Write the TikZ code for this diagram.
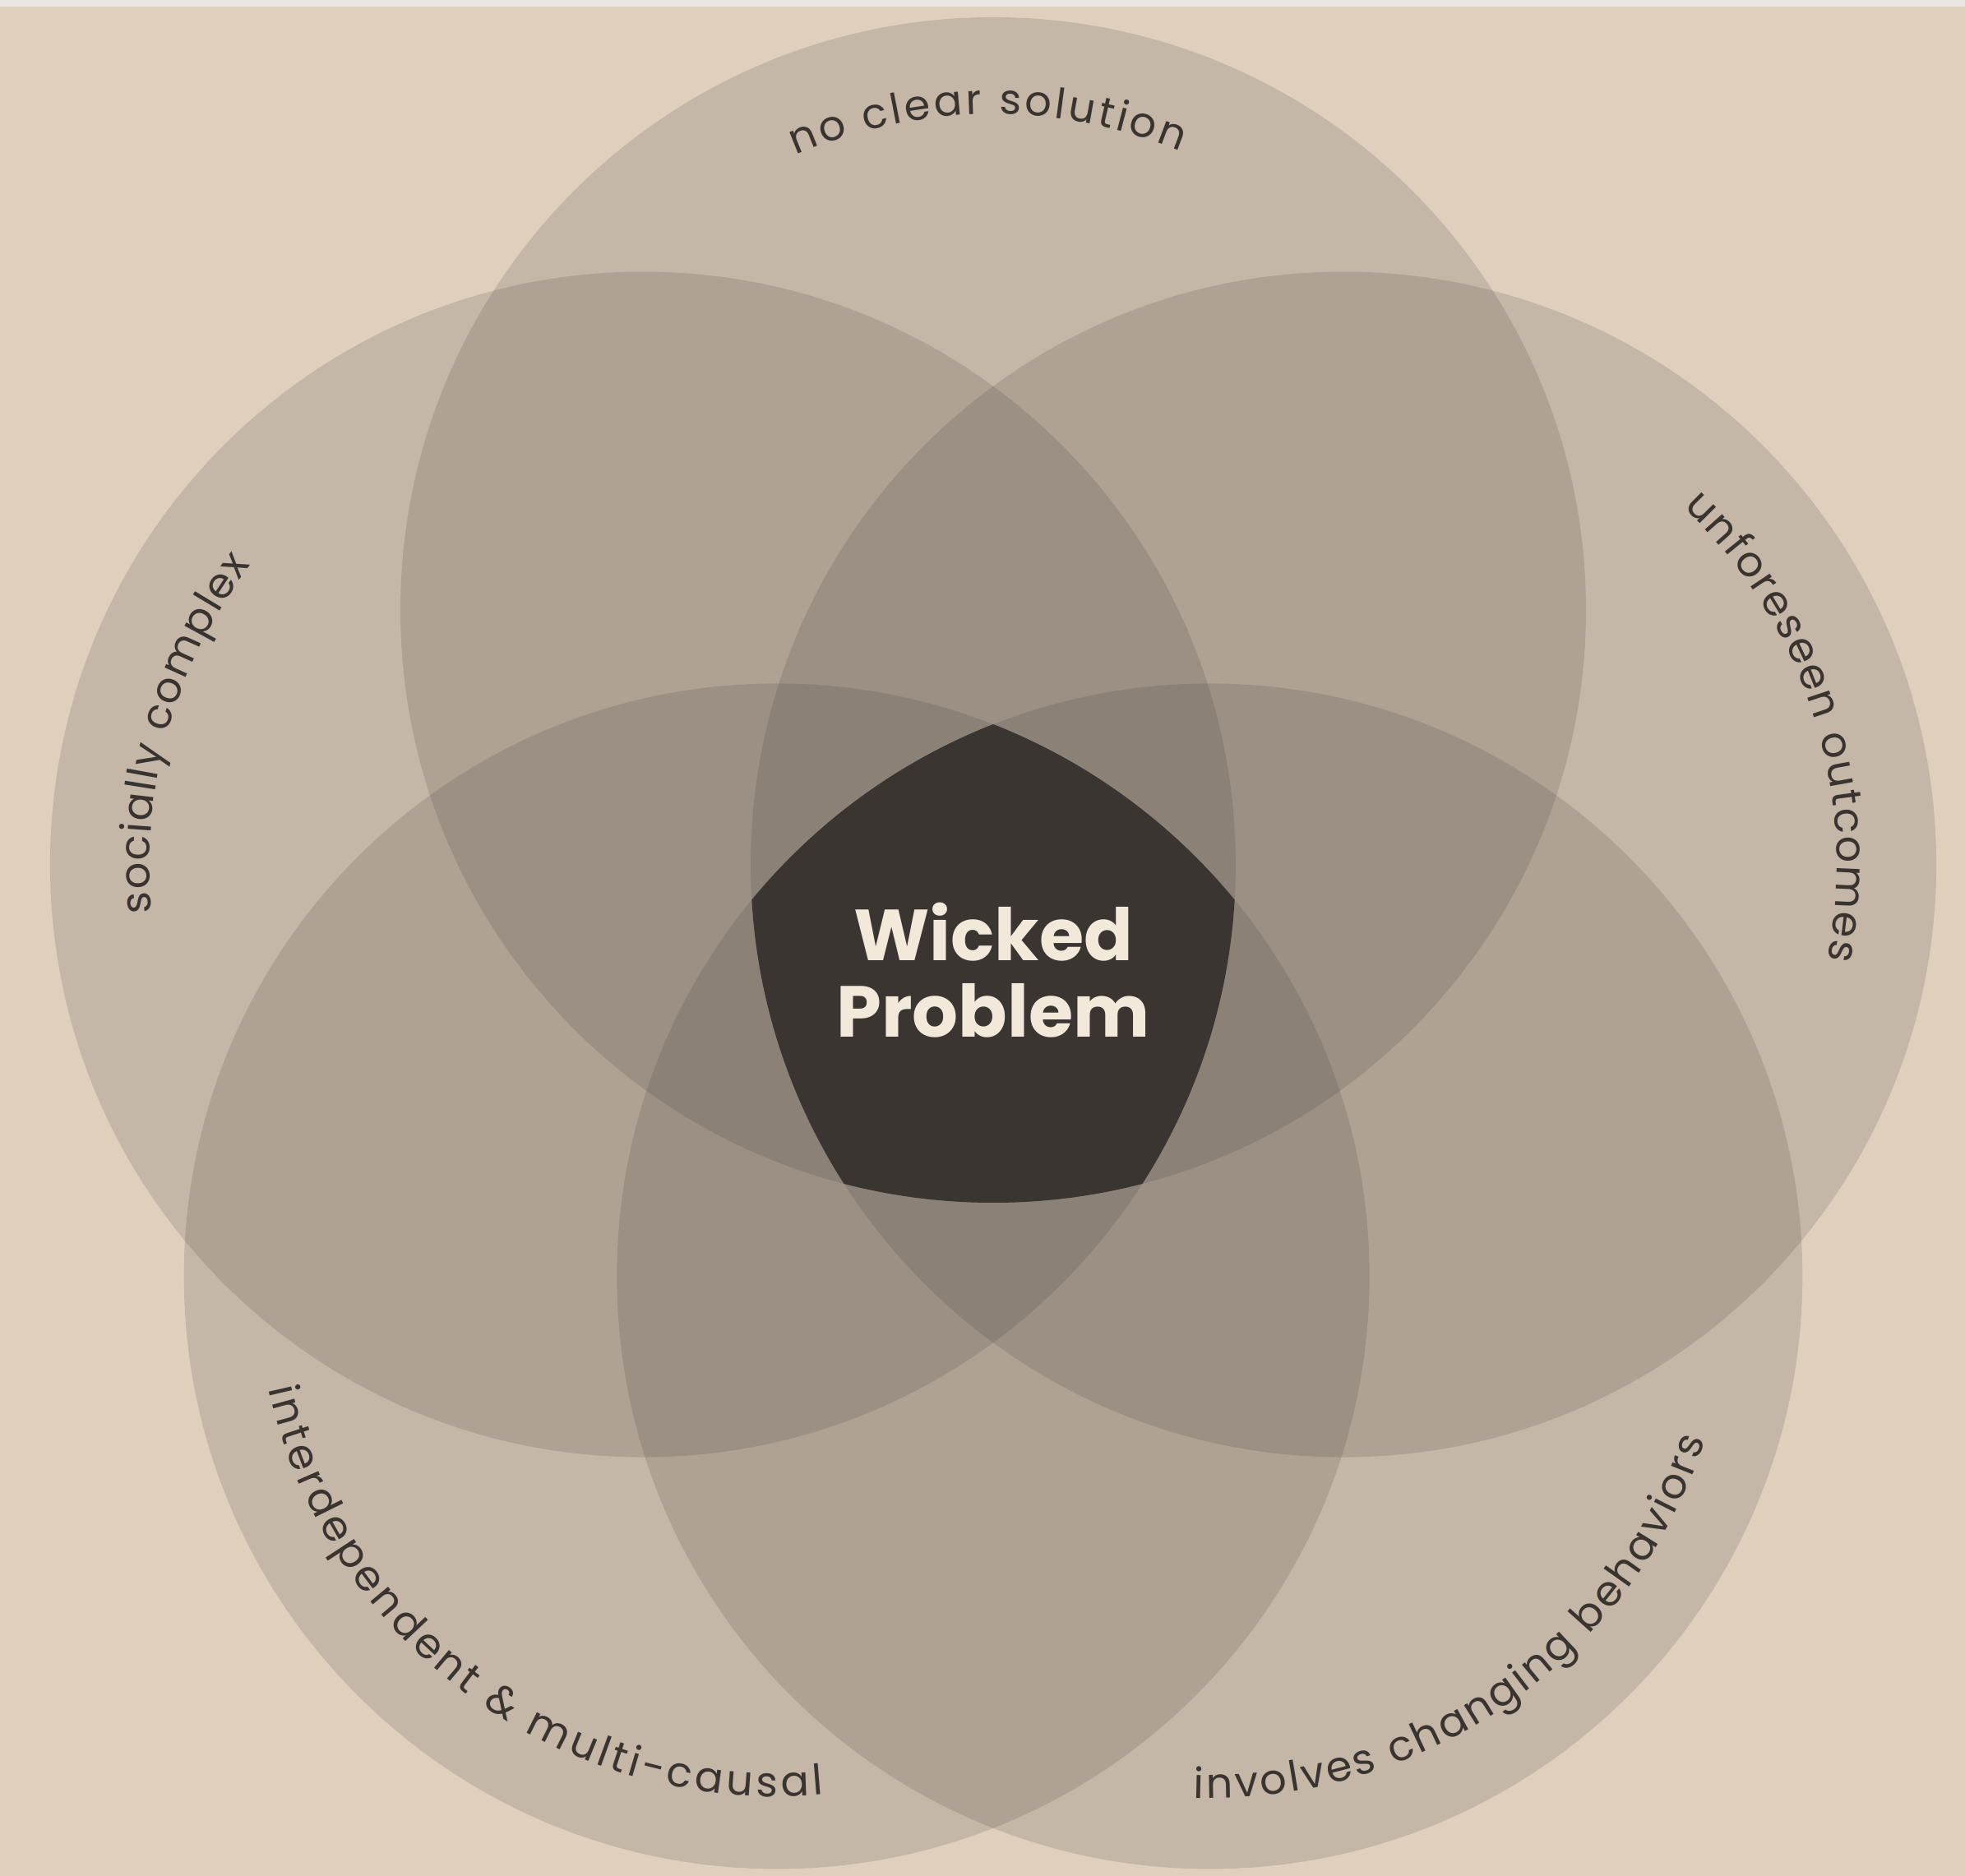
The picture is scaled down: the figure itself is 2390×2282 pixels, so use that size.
\documentclass[tikz,border=0pt]{standalone}
\usepackage{fontspec}
\setmainfont{Poppins}
\usetikzlibrary{decorations.text,calc}

\definecolor{bgsand}{RGB}{223,208,190}
\definecolor{topstrip}{RGB}{233,230,228}
\definecolor{petal}{RGB}{62,56,52}
\definecolor{core}{RGB}{58,53,49}
\definecolor{cream}{RGB}{243,233,219}
\definecolor{ink}{RGB}{58,52,48}

\newcommand\labelfont{\fontsize{14.5}{17}\selectfont}

\begin{document}
\begin{tikzpicture}[x=0.01cm,y=0.01cm,
  petalfill/.style={fill=petal, fill opacity=0.16},
  arclabel/.style={decorate, decoration={text along path,
      text={|\labelfont|#1}, text align=fit to path, text color=ink}},
  coretext/.style={font=\bfseries\fontsize{25}{27}\selectfont, text=cream,
      anchor=base, inner sep=0pt}
]
% canvas
\fill[bgsand] (0,0) rectangle (2390,2282);
\fill[topstrip] (0,2274) rectangle (2390,2282);
\useasboundingbox (0,0) rectangle (2390,2282);

% circle centres on a regular pentagon
\coordinate (O) at (1208,1092);
\foreach \nm/\ang in {T/90,L/162,BL/234,BR/306,R/18}
  \coordinate (\nm) at ($(O)+(\ang:448)$);

% five translucent circles
\foreach \nm in {T,L,BL,BR,R}
  \fill[petalfill] (\nm) circle[radius=721];

% common intersection of all five
\begin{scope}
  \clip (T) circle[radius=721];
  \clip (L) circle[radius=721];
  \clip (BL) circle[radius=721];
  \clip (BR) circle[radius=721];
  \fill[core] (R) circle[radius=721];
\end{scope}

\node[coretext] (wicked) at (1208,1113) {Wicked};
\node[coretext] (problem) at (1208,1020) {Problem};

% curved labels
\path[arclabel={no clear solution}]
  ($(T)+(113.5:603)$) arc[start angle=113.5, end angle=67.8, radius=603];
\path[arclabel={socially complex}]
  ($(L)+(185.6:600)$) arc[start angle=185.6, end angle=142.6, radius=600];
\path[arclabel={unforeseen outcomes}]
  ($(R)+(46.5:600)$) arc[start angle=46.5, end angle=-11.1, radius=600];
\path[arclabel={interdependent {\&} multi-causal}]
  ($(BL)+(192.5:633)$) arc[start angle=192.5, end angle=275.1, radius=633];
\path[arclabel={involves changing behaviors}]
  ($(BR)+(268.2:635)$) arc[start angle=268.2, end angle=341.7, radius=635];
\end{tikzpicture}
\end{document}
